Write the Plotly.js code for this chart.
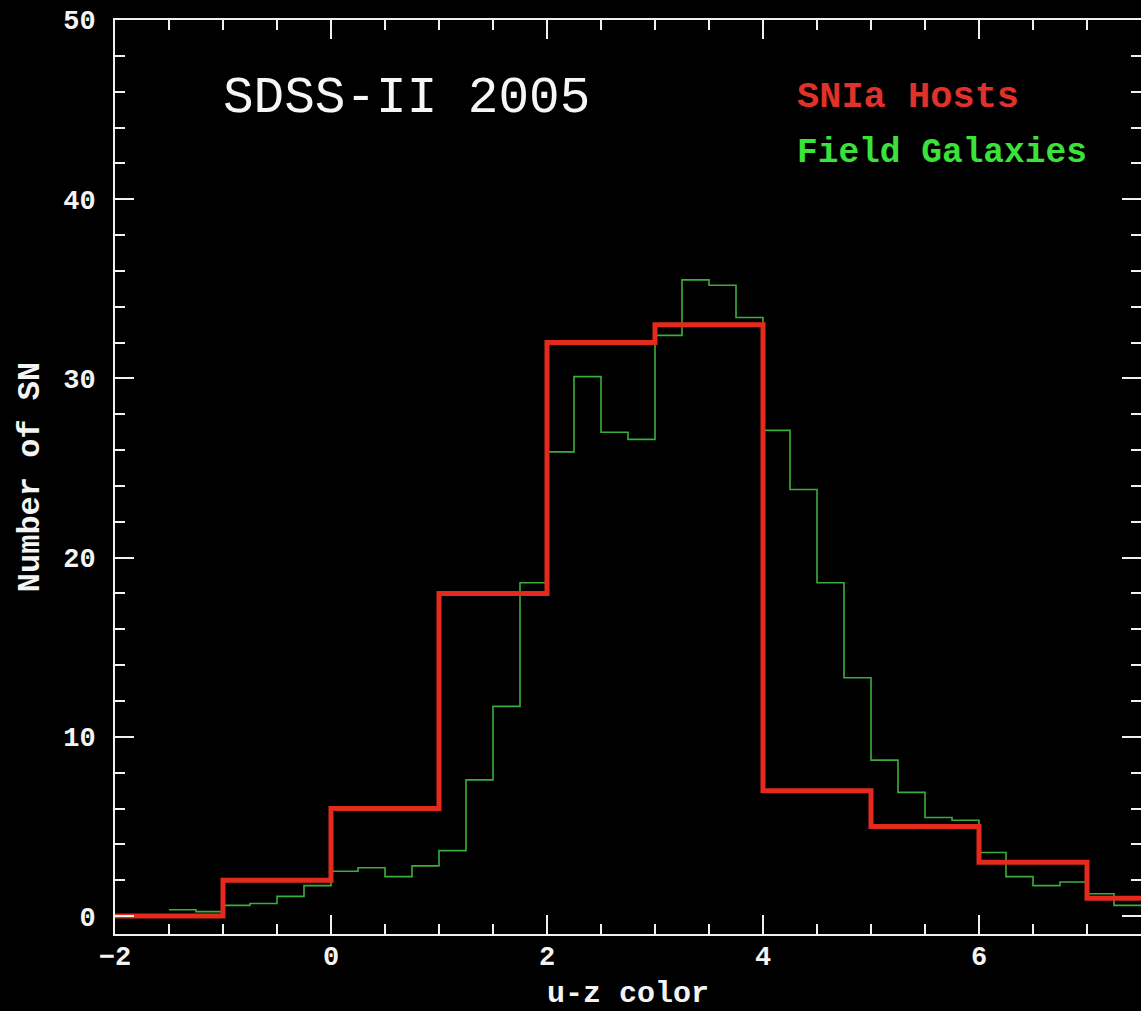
<!DOCTYPE html>
<html>
<head>
<meta charset="utf-8">
<script src="https://cdn.plot.ly/plotly-3.0.1.min.js"></script>
<style>html,body{margin:0;padding:0;background:#000;}#chart{width:1141px;height:1011px;}</style>
</head>
<body>
<div id="chart"></div>
<script>
// SNIa host galaxies: bins of width 1 in u-z colour
const snBinStarts = [-2, -1, 0, 1, 2, 3, 4, 5, 6, 7];
const snCounts    = [0, 2, 6, 18, 32, 33, 7, 5, 3, 1];
const snBinWidth  = 1;

// Field galaxies (scaled): bins of width 0.25 starting at -1.5
const fieldStart    = -1.5;
const fieldBinWidth = 0.25;
const fieldCounts = [
  0.35, 0.25, 0.6, 0.7, 1.1, 1.7,
  2.5, 2.7, 2.2, 2.8, 3.65, 7.6, 11.7, 18.6,
  25.9, 30.1, 27.0, 26.6, 32.4, 35.5, 35.2, 33.4,
  27.1, 23.8, 18.6, 13.3, 8.7, 6.9, 5.5, 5.35,
  3.55, 2.2, 1.7, 1.9, 1.25, 0.6
];

const xTickVals = [-2, 0, 2, 4, 6];
const yTickVals = [0, 10, 20, 30, 40, 50];

const titleText = 'SDSS-II 2005';
const snLabel = 'SNIa Hosts';
const fieldLabel = 'Field Galaxies';
const xLabel = 'u-z color';
const yLabel = 'Number of SN';

function stepXY(starts, counts, width) {
  const x = starts.slice();
  const y = counts.slice();
  x.push(starts[starts.length - 1] + width);
  y.push(counts[counts.length - 1]);
  return {x, y};
}

const snXY = stepXY(snBinStarts, snCounts, snBinWidth);
const fieldStarts = fieldCounts.map((_, i) => fieldStart + i * fieldBinWidth);
const fieldXY = stepXY(fieldStarts, fieldCounts, fieldBinWidth);

const FONT = 'Liberation Mono, Courier New, monospace';

const traces = [
  {x: fieldXY.x, y: fieldXY.y, type: 'scatter', mode: 'lines',
   line: {shape: 'hv', color: '#3aae3c', width: 1.6}, name: fieldLabel, hoverinfo: 'skip'},
  {x: snXY.x, y: snXY.y, type: 'scatter', mode: 'lines',
   line: {shape: 'hv', color: '#e42a1c', width: 5}, name: snLabel, hoverinfo: 'skip'}
];

const axisCommon = {
  showgrid: false, zeroline: false, showline: true, linecolor: '#f0f0f0', linewidth: 2,
  mirror: 'ticks', ticks: 'inside', tickcolor: '#f0f0f0', tickwidth: 2, ticklen: 19,
  tickfont: {family: FONT, size: 27, color: '#f4f4f4', weight: 'bold'}
};

const layout = {
  width: 1141, height: 1011,
  paper_bgcolor: '#000', plot_bgcolor: '#000',
  margin: {l: 115, r: 0, t: 20, b: 77},
  showlegend: false,
  xaxis: Object.assign({}, axisCommon, {
    range: [-2, 7.5], tickvals: xTickVals, ticktext: xTickVals.map(v => v < 0 ? '\u2212' + Math.abs(v) : String(v)),
    ticklabelstandoff: -3,
    minor: {dtick: 0.5, ticks: 'inside', ticklen: 10, tickwidth: 2, tickcolor: '#f0f0f0', showgrid: false},
    title: {text: xLabel, font: {family: FONT, size: 30, color: '#f4f4f4', weight: 'bold'}, standoff: 14}
  }),
  yaxis: Object.assign({}, axisCommon, {
    range: [-1, 50], tickvals: yTickVals,
    ticklabelstandoff: 12,
    minor: {dtick: 2, ticks: 'inside', ticklen: 10, tickwidth: 2, tickcolor: '#f0f0f0', showgrid: false},
    title: {text: yLabel, font: {family: FONT, size: 32, color: '#f4f4f4', weight: 'bold'}, standoff: 14}
  }),
  annotations: [
    {x: 0.7, y: 45.6, xref: 'x', yref: 'y', text: titleText, showarrow: false,
     xanchor: 'center', yanchor: 'middle', font: {family: FONT, size: 51, color: '#f6f6f6'}},
    {x: 4.3, y: 45.7, xref: 'x', yref: 'y', text: snLabel, showarrow: false,
     xanchor: 'left', yanchor: 'middle', font: {family: FONT, size: 37, color: '#e0322a', weight: 'bold'}},
    {x: 4.3, y: 42.6, xref: 'x', yref: 'y', text: fieldLabel, showarrow: false,
     xanchor: 'left', yanchor: 'middle', font: {family: FONT, size: 34.5, color: '#3ae23a', weight: 'bold'}}
  ]
};

Plotly.newPlot('chart', traces, layout, {displayModeBar: false, staticPlot: true});
</script>
</body>
</html>
